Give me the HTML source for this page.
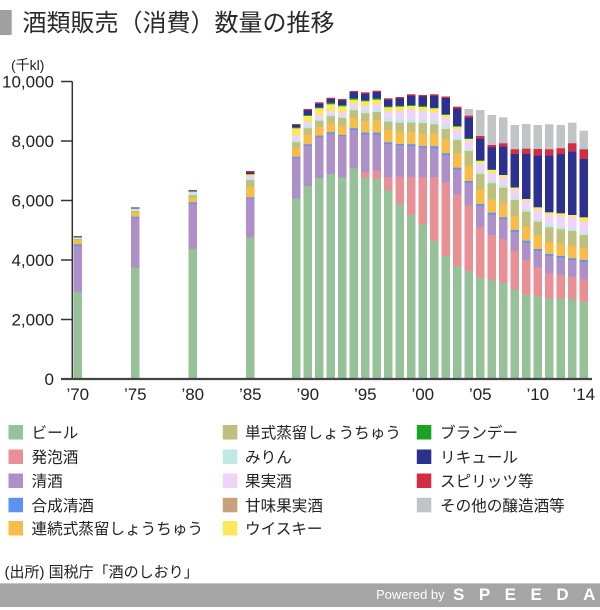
<!DOCTYPE html>
<html><head><meta charset="utf-8">
<style>
html,body{margin:0;padding:0;background:#fff;}
body{width:600px;height:610px;overflow:hidden;}
svg{display:block;font-family:"Liberation Sans","Noto Sans CJK JP",sans-serif;}
.be{fill:#96c199}.hp{fill:#e99097}.sk{fill:#ae90c8}.gs{fill:#5d92f2}.rz{fill:#f8bd48}
.tz{fill:#bfbf7e}.mr{fill:#c2e8e3}.kj{fill:#efd3f9}.am{fill:#c9a077}.wh{fill:#fde75c}
.br{fill:#1aa322}.lq{fill:#2c308f}.sp{fill:#d22d42}.ot{fill:#c0c4c7}.dk{fill:#7d5570}
.lg{font-size:15.6px;fill:#222;font-family:"Liberation Sans","Noto Sans CJK JP",sans-serif;}
.ax{font-size:17px;fill:#222;}
</style></head><body>
<svg width="600" height="610" viewBox="0 0 600 610" xmlns="http://www.w3.org/2000/svg">
<defs><clipPath id="cp"><rect x="0" y="0" width="600" height="379"/></clipPath></defs>
<!-- title -->
<rect x="0" y="10" width="11.7" height="25" fill="#a0a0a0"/>
<text x="22.5" y="31" font-size="24" fill="#2a2a2a" font-family="Liberation Sans, Noto Sans CJK JP, sans-serif">酒類販売（消費）数量の推移</text>
<text x="11" y="70" font-size="14" fill="#222">(千kl)</text>

<g clip-path="url(#cp)">
<g transform="translate(73.5,0)"><rect y="236" width="8.5" height="300" class="dk"/><rect y="237.5" width="8.5" height="300" class="mr"/><rect y="239" width="8.5" height="300" class="tz"/><rect y="240" width="8.5" height="300" class="rz"/><rect y="244.3" width="8.5" height="300" class="gs"/><rect y="246" width="8.5" height="300" class="sk"/><rect y="291.7" width="8.5" height="300" class="be"/></g>
<g transform="translate(131,0)"><rect y="207.3" width="8.5" height="300" class="dk"/><rect y="208.7" width="8.5" height="300" class="mr"/><rect y="211" width="8.5" height="300" class="tz"/><rect y="212.7" width="8.5" height="300" class="rz"/><rect y="216.7" width="8.5" height="300" class="gs"/><rect y="217.7" width="8.5" height="300" class="sk"/><rect y="267.7" width="8.5" height="300" class="be"/></g>
<g transform="translate(188.5,0)"><rect y="190" width="8.5" height="300" class="dk"/><rect y="191.7" width="8.5" height="300" class="mr"/><rect y="195" width="8.5" height="300" class="tz"/><rect y="197.3" width="8.5" height="300" class="rz"/><rect y="202.3" width="8.5" height="300" class="gs"/><rect y="203.7" width="8.5" height="300" class="sk"/><rect y="248.7" width="8.5" height="300" class="be"/></g>
<g transform="translate(246,0)"><rect y="171" width="8.5" height="300" class="sp"/><rect y="172.3" width="8.5" height="300" class="lq"/><rect y="174.3" width="8.5" height="300" class="wh"/><rect y="176" width="8.5" height="300" class="kj"/><rect y="178" width="8.5" height="300" class="mr"/><rect y="180" width="8.5" height="300" class="tz"/><rect y="186.7" width="8.5" height="300" class="rz"/><rect y="197.3" width="8.5" height="300" class="gs"/><rect y="198.3" width="8.5" height="300" class="sk"/><rect y="237.5" width="8.5" height="300" class="be"/></g>

<g transform="translate(292,0)"><rect y="124" width="8.5" height="300" class="sp"/><rect y="125" width="8.5" height="300" class="lq"/><rect y="127.3" width="8.5" height="300" class="br"/><rect y="128.3" width="8.5" height="300" class="wh"/><rect y="135.7" width="8.5" height="300" class="kj"/><rect y="140" width="8.5" height="300" class="mr"/><rect y="142.3" width="8.5" height="300" class="tz"/><rect y="148.3" width="8.5" height="300" class="rz"/><rect y="156.7" width="8.5" height="300" class="gs"/><rect y="157.7" width="8.5" height="300" class="sk"/><rect y="198.3" width="8.5" height="300" class="be"/></g>
<g transform="translate(303.5,0)"><rect y="109" width="8.5" height="300" class="sp"/><rect y="110.3" width="8.5" height="300" class="lq"/><rect y="115" width="8.5" height="300" class="br"/><rect y="116" width="8.5" height="300" class="wh"/><rect y="122" width="8.5" height="300" class="kj"/><rect y="125.7" width="8.5" height="300" class="mr"/><rect y="128.3" width="8.5" height="300" class="tz"/><rect y="134.3" width="8.5" height="300" class="rz"/><rect y="144.3" width="8.5" height="300" class="gs"/><rect y="145.7" width="8.5" height="300" class="sk"/><rect y="186" width="8.5" height="300" class="be"/></g>
<g transform="translate(315,0)"><rect y="102.3" width="8.5" height="300" class="sp"/><rect y="103.7" width="8.5" height="300" class="lq"/><rect y="107.3" width="8.5" height="300" class="br"/><rect y="108.3" width="8.5" height="300" class="wh"/><rect y="115" width="8.5" height="300" class="kj"/><rect y="118.3" width="8.5" height="300" class="mr"/><rect y="120.7" width="8.5" height="300" class="tz"/><rect y="127" width="8.5" height="300" class="rz"/><rect y="135.7" width="8.5" height="300" class="gs"/><rect y="136.7" width="8.5" height="300" class="sk"/><rect y="178" width="8.5" height="300" class="be"/></g>
<g transform="translate(326.5,0)"><rect y="97.7" width="8.5" height="300" class="sp"/><rect y="99" width="8.5" height="300" class="lq"/><rect y="102.7" width="8.5" height="300" class="br"/><rect y="104.3" width="8.5" height="300" class="wh"/><rect y="111" width="8.5" height="300" class="kj"/><rect y="114.3" width="8.5" height="300" class="mr"/><rect y="116.3" width="8.5" height="300" class="tz"/><rect y="123.3" width="8.5" height="300" class="rz"/><rect y="132.3" width="8.5" height="300" class="gs"/><rect y="133.7" width="8.5" height="300" class="sk"/><rect y="174" width="8.5" height="300" class="be"/></g>
<g transform="translate(338,0)"><rect y="99" width="8.5" height="300" class="sp"/><rect y="100.3" width="8.5" height="300" class="lq"/><rect y="105" width="8.5" height="300" class="br"/><rect y="106.3" width="8.5" height="300" class="wh"/><rect y="112.3" width="8.5" height="300" class="kj"/><rect y="115.7" width="8.5" height="300" class="mr"/><rect y="118" width="8.5" height="300" class="tz"/><rect y="125.7" width="8.5" height="300" class="rz"/><rect y="135" width="8.5" height="300" class="gs"/><rect y="136.3" width="8.5" height="300" class="sk"/><rect y="177.3" width="8.5" height="300" class="be"/></g>
<g transform="translate(349.5,0)"><rect y="91" width="8.5" height="300" class="sp"/><rect y="92.3" width="8.5" height="300" class="lq"/><rect y="98.3" width="8.5" height="300" class="br"/><rect y="99.7" width="8.5" height="300" class="wh"/><rect y="104.3" width="8.5" height="300" class="kj"/><rect y="107.7" width="8.5" height="300" class="mr"/><rect y="110.3" width="8.5" height="300" class="tz"/><rect y="117.7" width="8.5" height="300" class="rz"/><rect y="128.3" width="8.5" height="300" class="gs"/><rect y="130" width="8.5" height="300" class="sk"/><rect y="168.3" width="8.5" height="300" class="be"/></g>
<g transform="translate(361,0)"><rect y="92.3" width="8.5" height="300" class="sp"/><rect y="93.7" width="8.5" height="300" class="lq"/><rect y="100.3" width="8.5" height="300" class="br"/><rect y="101.3" width="8.5" height="300" class="wh"/><rect y="106" width="8.5" height="300" class="kj"/><rect y="110.3" width="8.5" height="300" class="mr"/><rect y="113.3" width="8.5" height="300" class="tz"/><rect y="121" width="8.5" height="300" class="rz"/><rect y="132.7" width="8.5" height="300" class="gs"/><rect y="134.3" width="8.5" height="300" class="sk"/><rect y="172.3" width="8.5" height="300" class="hp"/><rect y="177.7" width="8.5" height="300" class="be"/></g>
<g transform="translate(372.5,0)"><rect y="90.7" width="8.5" height="300" class="sp"/><rect y="92" width="8.5" height="300" class="lq"/><rect y="98.3" width="8.5" height="300" class="br"/><rect y="99.7" width="8.5" height="300" class="wh"/><rect y="104.3" width="8.5" height="300" class="kj"/><rect y="109" width="8.5" height="300" class="mr"/><rect y="112" width="8.5" height="300" class="tz"/><rect y="120.3" width="8.5" height="300" class="rz"/><rect y="132.7" width="8.5" height="300" class="gs"/><rect y="134.3" width="8.5" height="300" class="sk"/><rect y="170.7" width="8.5" height="300" class="hp"/><rect y="179" width="8.5" height="300" class="be"/></g>
<g transform="translate(384,0)"><rect y="98.3" width="8.5" height="300" class="sp"/><rect y="99.7" width="8.5" height="300" class="lq"/><rect y="106.3" width="8.5" height="300" class="br"/><rect y="107.3" width="8.5" height="300" class="wh"/><rect y="111.7" width="8.5" height="300" class="kj"/><rect y="118.3" width="8.5" height="300" class="mr"/><rect y="121.7" width="8.5" height="300" class="tz"/><rect y="130" width="8.5" height="300" class="rz"/><rect y="142.3" width="8.5" height="300" class="gs"/><rect y="144" width="8.5" height="300" class="sk"/><rect y="177.3" width="8.5" height="300" class="hp"/><rect y="190.3" width="8.5" height="300" class="be"/></g>
<g transform="translate(395.5,0)"><rect y="97" width="8.5" height="300" class="sp"/><rect y="98.3" width="8.5" height="300" class="lq"/><rect y="105.7" width="8.5" height="300" class="br"/><rect y="106.7" width="8.5" height="300" class="wh"/><rect y="111" width="8.5" height="300" class="kj"/><rect y="119.7" width="8.5" height="300" class="mr"/><rect y="122.7" width="8.5" height="300" class="tz"/><rect y="131.7" width="8.5" height="300" class="rz"/><rect y="144" width="8.5" height="300" class="gs"/><rect y="145.3" width="8.5" height="300" class="sk"/><rect y="176.7" width="8.5" height="300" class="hp"/><rect y="204" width="8.5" height="300" class="be"/></g>
<g transform="translate(407,0)"><rect y="94.3" width="8.5" height="300" class="sp"/><rect y="95.7" width="8.5" height="300" class="lq"/><rect y="105" width="8.5" height="300" class="br"/><rect y="106" width="8.5" height="300" class="wh"/><rect y="109.7" width="8.5" height="300" class="kj"/><rect y="119" width="8.5" height="300" class="mr"/><rect y="122.7" width="8.5" height="300" class="tz"/><rect y="131.7" width="8.5" height="300" class="rz"/><rect y="144.3" width="8.5" height="300" class="gs"/><rect y="146" width="8.5" height="300" class="sk"/><rect y="176.7" width="8.5" height="300" class="hp"/><rect y="215" width="8.5" height="300" class="be"/></g>
<g transform="translate(418.5,0)"><rect y="95" width="8.5" height="300" class="sp"/><rect y="96.3" width="8.5" height="300" class="lq"/><rect y="105.7" width="8.5" height="300" class="br"/><rect y="107" width="8.5" height="300" class="wh"/><rect y="111" width="8.5" height="300" class="kj"/><rect y="119.7" width="8.5" height="300" class="mr"/><rect y="123" width="8.5" height="300" class="tz"/><rect y="133.7" width="8.5" height="300" class="rz"/><rect y="146" width="8.5" height="300" class="gs"/><rect y="147.7" width="8.5" height="300" class="sk"/><rect y="177" width="8.5" height="300" class="hp"/><rect y="224.3" width="8.5" height="300" class="be"/></g>
<g transform="translate(430,0)"><rect y="94.3" width="8.5" height="300" class="sp"/><rect y="95.7" width="8.5" height="300" class="lq"/><rect y="107.7" width="8.5" height="300" class="br"/><rect y="108.3" width="8.5" height="300" class="wh"/><rect y="112.3" width="8.5" height="300" class="kj"/><rect y="120.3" width="8.5" height="300" class="mr"/><rect y="124.3" width="8.5" height="300" class="tz"/><rect y="133.3" width="8.5" height="300" class="rz"/><rect y="146.3" width="8.5" height="300" class="gs"/><rect y="148.3" width="8.5" height="300" class="sk"/><rect y="177" width="8.5" height="300" class="hp"/><rect y="241" width="8.5" height="300" class="be"/></g>
<g transform="translate(441.5,0)"><rect y="96.5" width="8.5" height="300" class="sp"/><rect y="98" width="8.5" height="300" class="lq"/><rect y="114" width="8.5" height="300" class="br"/><rect y="115" width="8.5" height="300" class="wh"/><rect y="117.3" width="8.5" height="300" class="kj"/><rect y="126" width="8.5" height="300" class="mr"/><rect y="129" width="8.5" height="300" class="tz"/><rect y="139.3" width="8.5" height="300" class="rz"/><rect y="153.3" width="8.5" height="300" class="gs"/><rect y="155" width="8.5" height="300" class="sk"/><rect y="182.3" width="8.5" height="300" class="hp"/><rect y="256" width="8.5" height="300" class="be"/></g>
<g transform="translate(453,0)"><rect y="106.7" width="8.5" height="300" class="sp"/><rect y="108.5" width="8.5" height="300" class="lq"/><rect y="126" width="8.5" height="300" class="br"/><rect y="126.7" width="8.5" height="300" class="wh"/><rect y="129.3" width="8.5" height="300" class="kj"/><rect y="137.3" width="8.5" height="300" class="mr"/><rect y="140" width="8.5" height="300" class="tz"/><rect y="153.3" width="8.5" height="300" class="rz"/><rect y="167.7" width="8.5" height="300" class="gs"/><rect y="169.3" width="8.5" height="300" class="sk"/><rect y="194.3" width="8.5" height="300" class="hp"/><rect y="266" width="8.5" height="300" class="be"/></g>
<g transform="translate(464.5,0)"><rect y="109" width="8.5" height="300" class="ot"/><rect y="115.7" width="8.5" height="300" class="sp"/><rect y="117.7" width="8.5" height="300" class="lq"/><rect y="138.3" width="8.5" height="300" class="br"/><rect y="139" width="8.5" height="300" class="wh"/><rect y="141" width="8.5" height="300" class="kj"/><rect y="148.3" width="8.5" height="300" class="mr"/><rect y="151" width="8.5" height="300" class="tz"/><rect y="165.7" width="8.5" height="300" class="rz"/><rect y="181" width="8.5" height="300" class="gs"/><rect y="182.7" width="8.5" height="300" class="sk"/><rect y="205.3" width="8.5" height="300" class="hp"/><rect y="271" width="8.5" height="300" class="be"/></g>
<g transform="translate(476,0)"><rect y="110" width="8.5" height="300" class="ot"/><rect y="136" width="8.5" height="300" class="sp"/><rect y="138.7" width="8.5" height="300" class="lq"/><rect y="160" width="8.5" height="300" class="br"/><rect y="161" width="8.5" height="300" class="wh"/><rect y="163.3" width="8.5" height="300" class="kj"/><rect y="171" width="8.5" height="300" class="mr"/><rect y="174" width="8.5" height="300" class="tz"/><rect y="189.3" width="8.5" height="300" class="rz"/><rect y="204" width="8.5" height="300" class="gs"/><rect y="205.7" width="8.5" height="300" class="sk"/><rect y="227.3" width="8.5" height="300" class="hp"/><rect y="277.3" width="8.5" height="300" class="be"/></g>
<g transform="translate(487.5,0)"><rect y="115" width="8.5" height="300" class="ot"/><rect y="145" width="8.5" height="300" class="sp"/><rect y="147.3" width="8.5" height="300" class="lq"/><rect y="169.3" width="8.5" height="300" class="br"/><rect y="170" width="8.5" height="300" class="wh"/><rect y="173.3" width="8.5" height="300" class="kj"/><rect y="180" width="8.5" height="300" class="mr"/><rect y="183.3" width="8.5" height="300" class="tz"/><rect y="199.5" width="8.5" height="300" class="rz"/><rect y="212.7" width="8.5" height="300" class="gs"/><rect y="214.5" width="8.5" height="300" class="sk"/><rect y="235" width="8.5" height="300" class="hp"/><rect y="280.3" width="8.5" height="300" class="be"/></g>
<g transform="translate(499,0)"><rect y="117.3" width="8.5" height="300" class="ot"/><rect y="143.3" width="8.5" height="300" class="sp"/><rect y="146.7" width="8.5" height="300" class="lq"/><rect y="175" width="8.5" height="300" class="wh"/><rect y="177.3" width="8.5" height="300" class="kj"/><rect y="185" width="8.5" height="300" class="mr"/><rect y="187.7" width="8.5" height="300" class="tz"/><rect y="203.5" width="8.5" height="300" class="rz"/><rect y="217.3" width="8.5" height="300" class="gs"/><rect y="219" width="8.5" height="300" class="sk"/><rect y="239.3" width="8.5" height="300" class="hp"/><rect y="282.7" width="8.5" height="300" class="be"/></g>
<g transform="translate(510.5,0)"><rect y="125" width="8.5" height="300" class="ot"/><rect y="149.3" width="8.5" height="300" class="sp"/><rect y="154" width="8.5" height="300" class="lq"/><rect y="187.5" width="8.5" height="300" class="wh"/><rect y="189.5" width="8.5" height="300" class="kj"/><rect y="197.3" width="8.5" height="300" class="mr"/><rect y="200" width="8.5" height="300" class="tz"/><rect y="216.5" width="8.5" height="300" class="rz"/><rect y="230" width="8.5" height="300" class="gs"/><rect y="231.7" width="8.5" height="300" class="sk"/><rect y="250.7" width="8.5" height="300" class="hp"/><rect y="289.3" width="8.5" height="300" class="be"/></g>
<g transform="translate(522,0)"><rect y="124" width="8.5" height="300" class="ot"/><rect y="148.7" width="8.5" height="300" class="sp"/><rect y="154" width="8.5" height="300" class="lq"/><rect y="199" width="8.5" height="300" class="wh"/><rect y="201" width="8.5" height="300" class="kj"/><rect y="209.3" width="8.5" height="300" class="mr"/><rect y="211.7" width="8.5" height="300" class="tz"/><rect y="226.7" width="8.5" height="300" class="rz"/><rect y="240.7" width="8.5" height="300" class="gs"/><rect y="242.5" width="8.5" height="300" class="sk"/><rect y="260" width="8.5" height="300" class="hp"/><rect y="294.3" width="8.5" height="300" class="be"/></g>
<g transform="translate(533.5,0)"><rect y="125" width="8.5" height="300" class="ot"/><rect y="149" width="8.5" height="300" class="sp"/><rect y="155.7" width="8.5" height="300" class="lq"/><rect y="207.3" width="8.5" height="300" class="wh"/><rect y="210" width="8.5" height="300" class="kj"/><rect y="219.3" width="8.5" height="300" class="mr"/><rect y="221.7" width="8.5" height="300" class="tz"/><rect y="235" width="8.5" height="300" class="rz"/><rect y="249" width="8.5" height="300" class="gs"/><rect y="250.7" width="8.5" height="300" class="sk"/><rect y="267.3" width="8.5" height="300" class="hp"/><rect y="296.3" width="8.5" height="300" class="be"/></g>
<g transform="translate(545,0)"><rect y="124.3" width="8.5" height="300" class="ot"/><rect y="149.3" width="8.5" height="300" class="sp"/><rect y="155.7" width="8.5" height="300" class="lq"/><rect y="212.3" width="8.5" height="300" class="wh"/><rect y="215" width="8.5" height="300" class="kj"/><rect y="224.3" width="8.5" height="300" class="mr"/><rect y="227.3" width="8.5" height="300" class="tz"/><rect y="241.7" width="8.5" height="300" class="rz"/><rect y="254" width="8.5" height="300" class="gs"/><rect y="255.7" width="8.5" height="300" class="sk"/><rect y="273.3" width="8.5" height="300" class="hp"/><rect y="298.5" width="8.5" height="300" class="be"/></g>
<g transform="translate(556.5,0)"><rect y="125" width="8.5" height="300" class="ot"/><rect y="148.3" width="8.5" height="300" class="sp"/><rect y="154.3" width="8.5" height="300" class="lq"/><rect y="213.3" width="8.5" height="300" class="wh"/><rect y="216" width="8.5" height="300" class="kj"/><rect y="226.7" width="8.5" height="300" class="mr"/><rect y="229.3" width="8.5" height="300" class="tz"/><rect y="243.3" width="8.5" height="300" class="rz"/><rect y="256" width="8.5" height="300" class="gs"/><rect y="257.7" width="8.5" height="300" class="sk"/><rect y="275" width="8.5" height="300" class="hp"/><rect y="298.7" width="8.5" height="300" class="be"/></g>
<g transform="translate(568,0)"><rect y="122.7" width="8.5" height="300" class="ot"/><rect y="143.3" width="8.5" height="300" class="sp"/><rect y="151.7" width="8.5" height="300" class="lq"/><rect y="215" width="8.5" height="300" class="wh"/><rect y="217.3" width="8.5" height="300" class="kj"/><rect y="228.3" width="8.5" height="300" class="mr"/><rect y="231" width="8.5" height="300" class="tz"/><rect y="245.7" width="8.5" height="300" class="rz"/><rect y="258.3" width="8.5" height="300" class="gs"/><rect y="260" width="8.5" height="300" class="sk"/><rect y="276.7" width="8.5" height="300" class="hp"/><rect y="299.3" width="8.5" height="300" class="be"/></g>
<g transform="translate(579.5,0)"><rect y="130.7" width="8.5" height="300" class="ot"/><rect y="149.3" width="8.5" height="300" class="sp"/><rect y="159" width="8.5" height="300" class="lq"/><rect y="217.3" width="8.5" height="300" class="wh"/><rect y="221.7" width="8.5" height="300" class="kj"/><rect y="232.7" width="8.5" height="300" class="mr"/><rect y="235" width="8.5" height="300" class="tz"/><rect y="248.3" width="8.5" height="300" class="rz"/><rect y="260" width="8.5" height="300" class="gs"/><rect y="261.7" width="8.5" height="300" class="sk"/><rect y="279.3" width="8.5" height="300" class="hp"/><rect y="301.7" width="8.5" height="300" class="be"/></g>
</g>

<!-- axes -->
<g stroke="#333" stroke-width="1.5" fill="none">
<line x1="72.3" y1="81.5" x2="72.3" y2="379"/>
<line x1="61" y1="81.5" x2="72.3" y2="81.5"/>
<line x1="61" y1="141" x2="72.3" y2="141"/>
<line x1="61" y1="200.5" x2="72.3" y2="200.5"/>
<line x1="61" y1="260" x2="72.3" y2="260"/>
<line x1="61" y1="319.5" x2="72.3" y2="319.5"/>
</g>
<line x1="61" y1="379" x2="592" y2="379" stroke="#444" stroke-width="2.2"/>
<g class="ax" text-anchor="end">
<text x="54" y="87.5">10,000</text>
<text x="54" y="147">8,000</text>
<text x="54" y="206.5">6,000</text>
<text x="54" y="266">4,000</text>
<text x="54" y="325.5">2,000</text>
<text x="54" y="385">0</text>
</g>
<g class="ax" text-anchor="middle">
<text x="77.8" y="400">’70</text>
<text x="135.3" y="400">’75</text>
<text x="192.8" y="400">’80</text>
<text x="250.3" y="400">’85</text>
<text x="307.8" y="400">’90</text>
<text x="365.3" y="400">’95</text>
<text x="422.8" y="400">’00</text>
<text x="480.3" y="400">’05</text>
<text x="537.8" y="400">’10</text>
<text x="583.8" y="400">’14</text>
</g>

<!-- legend -->
<g>
<rect x="8.5" y="425" width="14.5" height="14.5" class="be"/>
<rect x="8.5" y="449.5" width="14.5" height="14.5" class="hp"/>
<rect x="8.5" y="473.5" width="14.5" height="14.5" class="sk"/>
<rect x="8.5" y="497.8" width="14.5" height="14.5" class="gs"/>
<rect x="8.5" y="521" width="14.5" height="14.5" class="rz"/>
<text class="lg" x="31.5" y="438">ビール</text>
<text class="lg" x="31.5" y="462.5">発泡酒</text>
<text class="lg" x="31.5" y="486.5">清酒</text>
<text class="lg" x="31.5" y="511">合成清酒</text>
<text class="lg" x="31.5" y="534">連続式蒸留しょうちゅう</text>

<rect x="222.8" y="425" width="14.5" height="14.5" class="tz"/>
<rect x="222.8" y="449.5" width="14.5" height="14.5" class="mr"/>
<rect x="222.8" y="473.5" width="14.5" height="14.5" class="kj"/>
<rect x="222.8" y="497.8" width="14.5" height="14.5" class="am"/>
<rect x="222.8" y="521" width="14.5" height="14.5" class="wh"/>
<text class="lg" x="245" y="438">単式蒸留しょうちゅう</text>
<text class="lg" x="245" y="462.5">みりん</text>
<text class="lg" x="245" y="486.5">果実酒</text>
<text class="lg" x="245" y="511">甘味果実酒</text>
<text class="lg" x="245" y="534">ウイスキー</text>

<rect x="416.8" y="425" width="14.5" height="14.5" class="br"/>
<rect x="416.8" y="449.5" width="14.5" height="14.5" class="lq"/>
<rect x="416.8" y="473.5" width="14.5" height="14.5" class="sp"/>
<rect x="416.8" y="497.8" width="14.5" height="14.5" class="ot"/>
<text class="lg" x="440" y="438">ブランデー</text>
<text class="lg" x="440" y="462.5">リキュール</text>
<text class="lg" x="440" y="486.5">スピリッツ等</text>
<text class="lg" x="440" y="511">その他の醸造酒等</text>
</g>

<!-- footer -->
<text x="4.5" y="577" font-size="15" fill="#222">(出所) 国税庁「酒のしおり」</text>
<rect x="0" y="583" width="600" height="24" fill="#a5a5a5"/>
<rect x="0" y="583" width="600" height="1" fill="#c4c4c4"/>
<text x="376" y="599" font-size="13" fill="#fff">Powered by</text>
<text x="453" y="600" font-size="17" font-weight="bold" fill="#fff" letter-spacing="14.5">SPEEDA</text>
</svg>
</body></html>
